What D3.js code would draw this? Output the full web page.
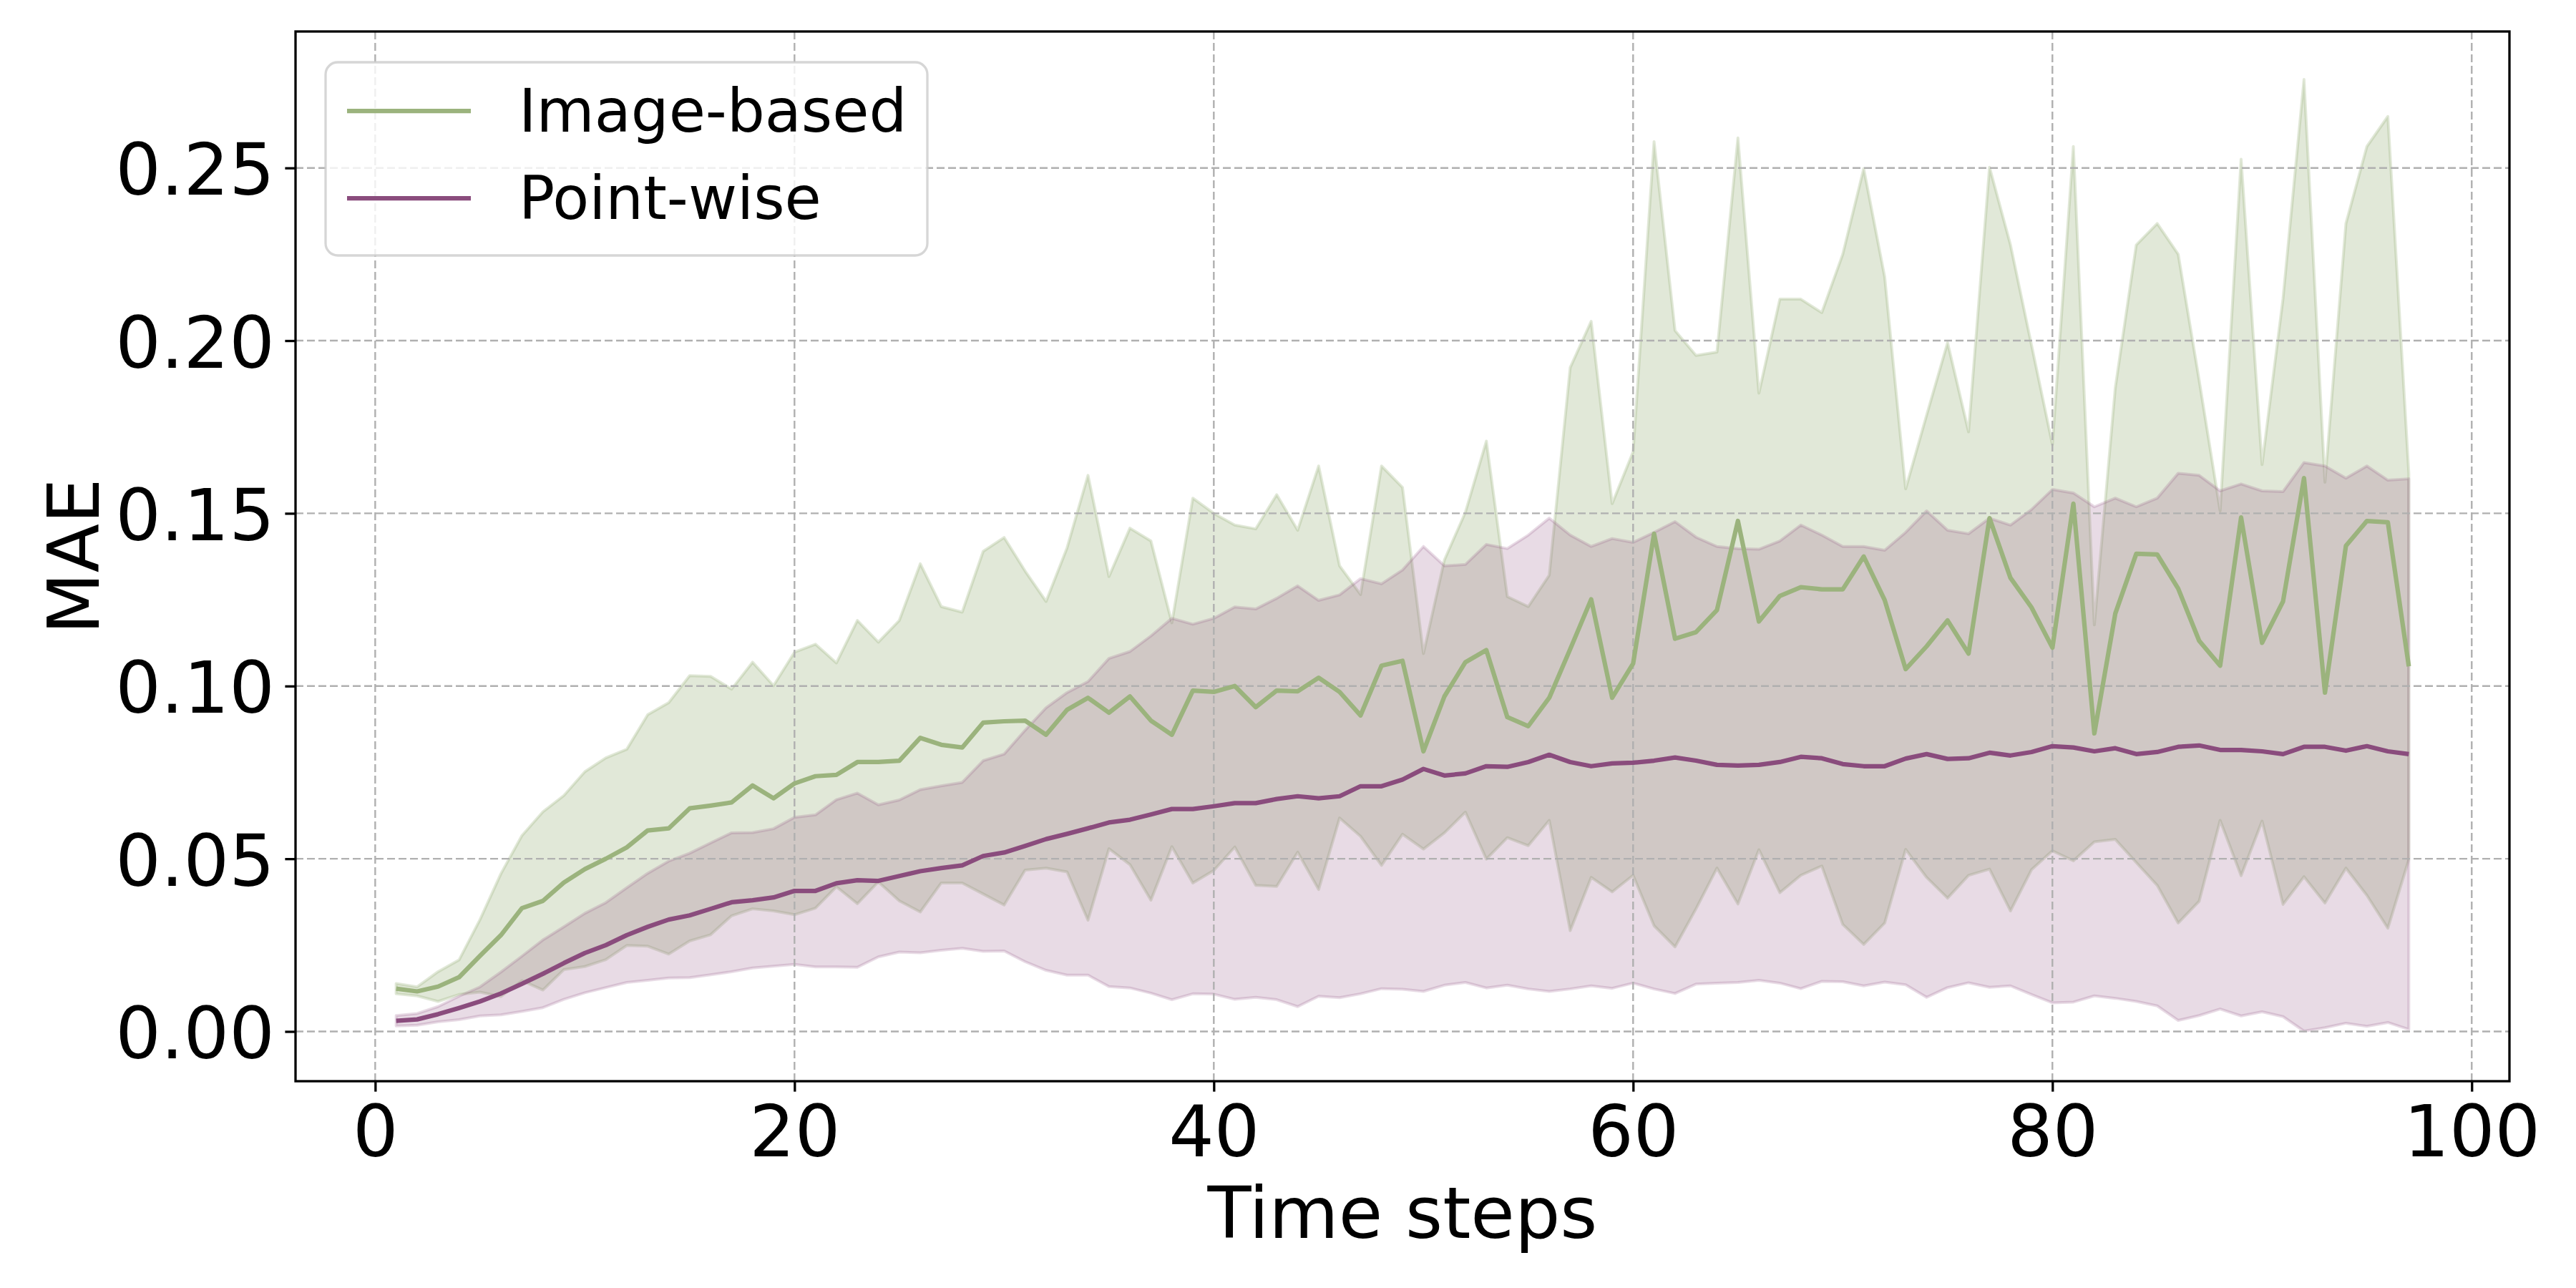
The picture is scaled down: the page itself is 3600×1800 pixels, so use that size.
<!DOCTYPE html>
<html>
<head>
<meta charset="utf-8">
<script src="https://cdn.jsdelivr.net/npm/d3@7"></script>
<style>
  html, body { margin: 0; padding: 0; background: white; }
  text { font-family: "DejaVu Sans", sans-serif; }
</style>
</head>
<body>
<div id="grafica"></div>
<script>
// time step index (x) and tick values
const timeSteps = d3.range(1, 98);
const xTicks = [0, 20, 40, 60, 80, 100];
const yTicks = [0, 0.05, 0.10, 0.15, 0.20, 0.25];

// Image-based : mean MAE and spread per step
const imgMean = [
  0.0124,0.0116,0.0130,0.0157,0.0219,0.0279,0.0357,0.0378,0.0431,0.0470,
  0.0500,0.0533,0.0582,0.0588,0.0646,0.0654,0.0663,0.0712,0.0675,0.0718,
  0.0739,0.0743,0.0780,0.0780,0.0784,0.0850,0.0830,0.0822,0.0894,0.0898,
  0.0900,0.0859,0.0931,0.0966,0.0923,0.0970,0.0900,0.0859,0.0987,0.0983,
  0.1000,0.0939,0.0987,0.0985,0.1024,0.0983,0.0915,0.1059,0.1073,0.0811,
  0.0970,0.1069,0.1104,0.0910,0.0884,0.0966,0.1107,0.1251,0.0966,0.1065,
  0.1441,0.1137,0.1156,0.1220,0.1478,0.1187,0.1261,0.1286,0.1280,0.1280,
  0.1375,0.1249,0.1049,0.1115,0.1190,0.1094,0.1486,0.1313,0.1228,0.1111,
  0.1528,0.0863,0.1210,0.1383,0.1381,0.1282,0.1131,0.1059,0.1488,0.1125,
  0.1245,0.1602,0.0981,0.1406,0.1478,0.1474,0.1057
];
const imgStd = [
  0.0015,0.0013,0.0043,0.0050,0.0105,0.0178,0.0210,0.0258,0.0252,0.0282,
  0.0292,0.0284,0.0335,0.0364,0.0384,0.0374,0.0328,0.0357,0.0326,0.0380,
  0.0382,0.0324,0.0410,0.0347,0.0406,0.0504,0.0400,0.0392,0.0496,0.0532,
  0.0433,0.0386,0.0469,0.0644,0.0394,0.0487,0.0520,0.0324,0.0557,0.0517,
  0.0466,0.0516,0.0567,0.0466,0.0613,0.0365,0.0350,0.0578,0.0502,0.0283,
  0.0395,0.0434,0.0605,0.0349,0.0346,0.0355,0.0815,0.0805,0.0562,0.0613,
  0.1135,0.0892,0.0801,0.0747,0.1109,0.0661,0.0859,0.0834,0.0801,0.0970,
  0.1123,0.0935,0.0522,0.0669,0.0804,0.0642,0.1016,0.0964,0.0760,0.0588,
  0.1034,0.0314,0.0654,0.0894,0.0958,0.0968,0.0754,0.0448,0.1037,0.0516,
  0.0877,0.1154,0.0609,0.0933,0.1084,0.1175,0.0559
];

// Point-wise : mean MAE and spread per step
const ptMean = [
  0.0031,0.0035,0.0050,0.0068,0.0087,0.0110,0.0138,0.0167,0.0198,0.0227,
  0.0250,0.0279,0.0303,0.0324,0.0336,0.0355,0.0374,0.0380,0.0388,0.0407,
  0.0407,0.0429,0.0438,0.0436,0.0450,0.0464,0.0473,0.0481,0.0508,0.0518,
  0.0537,0.0557,0.0572,0.0588,0.0605,0.0613,0.0628,0.0644,0.0644,0.0652,
  0.0661,0.0661,0.0673,0.0681,0.0675,0.0681,0.0710,0.0710,0.0729,0.0760,
  0.0741,0.0747,0.0768,0.0766,0.0780,0.0801,0.0780,0.0768,0.0776,0.0778,
  0.0784,0.0793,0.0784,0.0772,0.0770,0.0772,0.0780,0.0795,0.0791,0.0774,
  0.0768,0.0768,0.0790,0.0803,0.0789,0.0791,0.0807,0.0799,0.0809,0.0826,
  0.0822,0.0811,0.0820,0.0803,0.0809,0.0824,0.0828,0.0815,0.0815,0.0811,
  0.0803,0.0824,0.0824,0.0813,0.0826,0.0811,0.0803
];
const ptStd = [
  0.0015,0.0017,0.0022,0.0034,0.0042,0.0062,0.0080,0.0098,0.0105,0.0115,
  0.0123,0.0137,0.0155,0.0169,0.0180,0.0191,0.0201,0.0196,0.0199,0.0213,
  0.0220,0.0242,0.0252,0.0220,0.0220,0.0236,0.0238,0.0240,0.0276,0.0285,
  0.0335,0.0380,0.0409,0.0425,0.0475,0.0487,0.0517,0.0552,0.0535,0.0544,
  0.0568,0.0562,0.0581,0.0609,0.0573,0.0583,0.0601,0.0586,0.0607,0.0644,
  0.0607,0.0605,0.0642,0.0632,0.0657,0.0685,0.0657,0.0636,0.0651,0.0638,
  0.0661,0.0683,0.0647,0.0632,0.0628,0.0624,0.0640,0.0671,0.0646,0.0630,
  0.0636,0.0625,0.0655,0.0704,0.0662,0.0650,0.0679,0.0667,0.0702,0.0743,
  0.0737,0.0708,0.0724,0.0716,0.0735,0.0792,0.0782,0.0750,0.0770,0.0754,
  0.0760,0.0823,0.0813,0.0789,0.0811,0.0785,0.0797
];

const seriesNames = ["Image-based", "Point-wise"];
const seriesColors = ["#9bb37d", "#8a4c7d"];

//<-------------------------------------->

const W = 3600, H = 1800;
const caja = {left: 413, right: 3507, top: 44, bottom: 1511};

const svg = d3.select("#grafica")
  .append("svg")
  .attr("width", W)
  .attr("height", H);

svg.append("rect").attr("width", W).attr("height", H).attr("fill", "white");

const x = d3.scaleLinear().domain([-3.8, 101.8]).range([caja.left, caja.right]);
const y = d3.scaleLinear().domain([-0.0144, 0.2895]).range([caja.bottom, caja.top]);

const armaSerie = (medias, desv) => timeSteps.map((t, i) => ({
  t: t, m: medias[i], lo: medias[i] - desv[i], hi: medias[i] + desv[i]
}));
const series = [armaSerie(imgMean, imgStd), armaSerie(ptMean, ptStd)];
const alfas = [0.3, 0.2];

// bandas (fill_between) abajo de todo
const area = d3.area().x(d => x(d.t)).y0(d => y(d.lo)).y1(d => y(d.hi));
series.forEach((s, k) => {
  svg.append("path")
    .datum(s)
    .attr("d", area)
    .attr("fill", seriesColors[k])
    .attr("fill-opacity", alfas[k])
    .attr("stroke", seriesColors[k])
    .attr("stroke-opacity", alfas[k])
    .attr("stroke-width", 4)
    .attr("stroke-linejoin", "round");
});

// rejilla punteada
const rejilla = svg.append("g");
rejilla.selectAll("line.gx")
  .data(xTicks)
  .enter()
  .append("line")
    .attr("x1", d => x(d)).attr("x2", d => x(d))
    .attr("y1", caja.top).attr("y2", caja.bottom);
rejilla.selectAll("line.gy")
  .data(yTicks)
  .enter()
  .append("line")
    .attr("x1", caja.left).attr("x2", caja.right)
    .attr("y1", d => y(d)).attr("y2", d => y(d));
rejilla.selectAll("line")
  .attr("stroke", "#b0b0b0")
  .attr("stroke-width", 2.4)
  .attr("stroke-dasharray", "11,5");

// lineas de la media
const linea = d3.line().x(d => x(d.t)).y(d => y(d.m));
series.forEach((s, k) => {
  svg.append("path")
    .datum(s)
    .attr("d", linea)
    .attr("fill", "none")
    .attr("stroke", seriesColors[k])
    .attr("stroke-width", 6.25)
    .attr("stroke-linejoin", "round");
});

// ejes
const ejeX = svg.append("g")
  .attr("transform", "translate(0," + caja.bottom + ")")
  .call(d3.axisBottom(x).tickValues(xTicks).tickFormat(d3.format("d")).tickSize(14.6).tickPadding(14.6));
ejeX.selectAll("text").attr("y", 29.2).attr("dy", "0.76em");

const ejeY = svg.append("g")
  .attr("transform", "translate(" + caja.left + ",0)")
  .call(d3.axisLeft(y).tickValues(yTicks).tickFormat(d3.format(".2f")).tickSize(14.6).tickPadding(14.6));
ejeY.selectAll("text").attr("dy", "0.37em");

[ejeX, ejeY].forEach(e => {
  e.select(".domain").remove();
  e.selectAll("line").attr("stroke", "black").attr("stroke-width", 3.3);
  e.selectAll("text")
    .attr("fill", "black")
    .style("font-size", "100px")
    .style("font-family", "DejaVu Sans");
});

// marco completo
svg.append("rect")
  .attr("x", caja.left).attr("y", caja.top)
  .attr("width", caja.right - caja.left)
  .attr("height", caja.bottom - caja.top)
  .attr("fill", "none")
  .attr("stroke", "black")
  .attr("stroke-width", 3.3);

// titulos de ejes
svg.append("text")
  .attr("x", (caja.left + caja.right) / 2)
  .attr("y", 1730)
  .attr("text-anchor", "middle")
  .style("font-size", "100px")
  .text("Time steps");

svg.append("text")
  .attr("transform", "translate(138," + (caja.top + caja.bottom) / 2 + ") rotate(-90)")
  .attr("text-anchor", "middle")
  .style("font-size", "100px")
  .text("MAE");

// leyenda
const leyenda = svg.append("g");
leyenda.append("rect")
  .attr("x", 455).attr("y", 87)
  .attr("width", 841).attr("height", 270)
  .attr("rx", 17).attr("ry", 17)
  .attr("fill", "white").attr("fill-opacity", 0.8)
  .attr("stroke", "#cccccc").attr("stroke-opacity", 0.8)
  .attr("stroke-width", 3.3);

const filaY = [155, 277];
leyenda.selectAll("line.ley")
  .data(seriesNames)
  .enter()
  .append("line")
    .attr("x1", 485).attr("x2", 658)
    .attr("y1", (d, i) => filaY[i]).attr("y2", (d, i) => filaY[i])
    .attr("stroke", (d, i) => seriesColors[i])
    .attr("stroke-width", 6.25);
leyenda.selectAll("text")
  .data(seriesNames)
  .enter()
  .append("text")
    .attr("x", 725)
    .attr("y", (d, i) => filaY[i] + 29)
    .style("font-size", "83.3px")
    .text(d => d);
</script>
</body>
</html>
